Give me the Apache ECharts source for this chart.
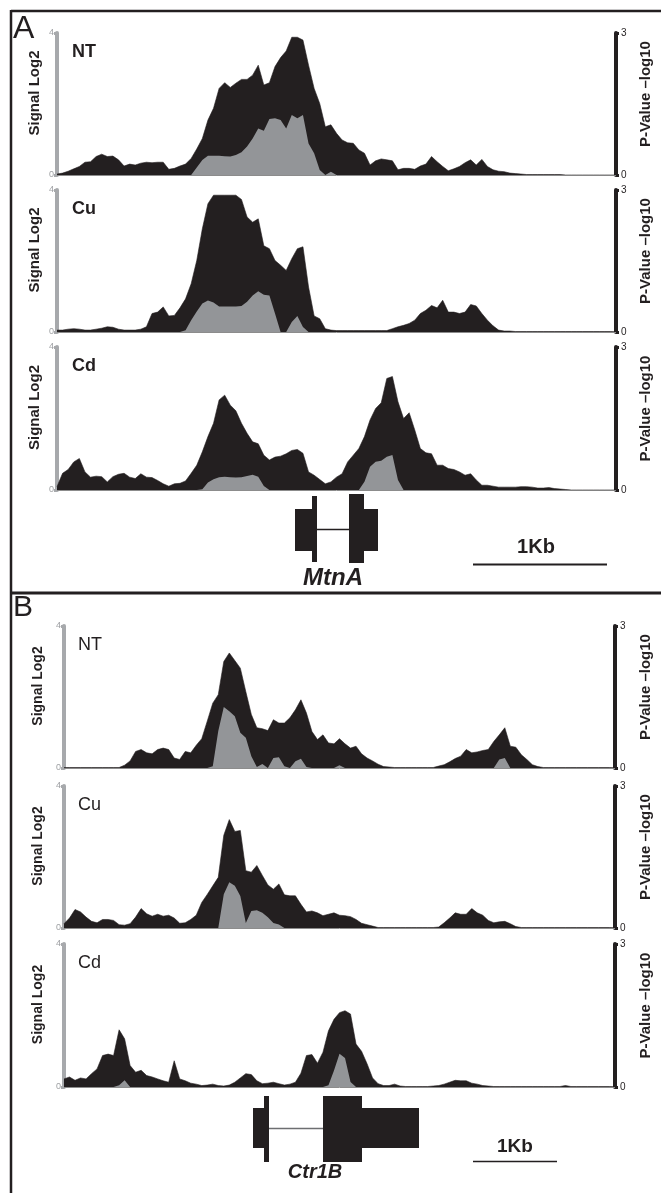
<!DOCTYPE html>
<html>
<head>
<meta charset="utf-8">
<script src="https://cdn.jsdelivr.net/npm/echarts@6/dist/echarts.min.js"></script>
<style>
  html, body { margin: 0; padding: 0; background: #fff; }
  #main { width: 661px; height: 1193px; }
</style>
</head>
<body>
<div id="main"></div>
<script>
// positions along the locus (0..100, left to right)
var pos = [];
for (var i = 0; i <= 100; i++) pos.push(i);

// black = P-Value -log10 (right axis, 0-3), gray = Signal Log2 (left axis, 0-4)
// Panel A - MtnA
var aNtPval = [0.02,0.04,0.08,0.13,0.18,0.27,0.28,0.39,0.44,0.39, 0.40,0.32,0.19,0.23,0.21,0.25,0.27,0.26,0.27,0.27, 0.12,0.14,0.19,0.23,0.35,0.55,0.77,1.16,1.41,1.83, 1.95,1.85,1.94,2.02,2.02,2.11,2.32,1.90,1.95,2.29, 2.48,2.62,2.91,2.91,2.85,2.32,1.83,1.51,1.02,1.06, 0.88,0.74,0.68,0.67,0.53,0.46,0.21,0.30,0.34,0.32, 0.30,0.11,0.14,0.14,0.12,0.19,0.23,0.39,0.28,0.18, 0.09,0.13,0.18,0.26,0.32,0.21,0.33,0.18,0.11,0.08, 0.07,0.04,0.03,0.02,0.01,0.01,0.01,0.01,0.01,0.01, 0.01,0,0,0,0,0,0,0,0,0, 0];
var aNtSig  = [0,0,0,0,0,0,0,0,0,0, 0,0,0,0,0,0,0,0,0,0, 0,0,0,0,0,0.21,0.42,0.54,0.54,0.54, 0.53,0.52,0.56,0.64,0.80,1.03,1.31,1.25,1.58,1.60, 1.55,1.31,1.69,1.60,1.69,0.89,0.61,0.14,0,0.09, 0,0,0,0,0,0,0,0,0,0, 0,0,0,0,0,0,0,0,0,0, 0,0,0,0,0,0,0,0,0,0, 0,0,0,0,0,0,0,0,0,0, 0,0,0,0,0,0,0,0,0,0, 0];
var aCuPval = [0.04,0.04,0.06,0.07,0.06,0.04,0.04,0.06,0.08,0.11, 0.10,0.06,0.04,0.04,0.04,0.06,0.11,0.39,0.42,0.53, 0.34,0.35,0.51,0.70,1.02,1.51,2.18,2.71,2.89,2.89, 2.89,2.89,2.89,2.80,2.43,2.32,2.39,1.82,1.76,1.51, 1.41,1.30,1.55,1.76,1.80,0.95,0.34,0.28,0.07,0.04, 0.03,0.03,0.03,0.03,0.03,0.03,0.03,0.03,0.03,0.03, 0.07,0.11,0.14,0.18,0.25,0.39,0.46,0.56,0.51,0.67, 0.42,0.42,0.39,0.42,0.58,0.55,0.39,0.25,0.13,0.04, 0.02,0.02,0.01,0.01,0.01,0.01,0.01,0.01,0.01,0.01, 0.01,0.01,0.01,0.01,0.01,0.01,0.01,0.01,0.01,0.01, 0.01];
var aCuSig  = [0,0,0,0,0,0,0,0,0,0, 0,0,0,0,0,0,0,0,0,0, 0,0,0,0.05,0.33,0.58,0.80,0.89,0.83,0.72, 0.72,0.72,0.72,0.73,0.85,1.03,1.15,1.05,1.03,0.52, 0,0,0.28,0.45,0.14,0,0,0,0,0, 0,0,0,0,0,0,0,0,0,0, 0,0,0,0,0,0,0,0,0,0, 0,0,0,0,0,0,0,0,0,0, 0,0,0,0,0,0,0,0,0,0, 0,0,0,0,0,0,0,0,0,0, 0];
var aCdPval = [0.07,0.35,0.43,0.59,0.66,0.38,0.27,0.29,0.28,0.17, 0.28,0.33,0.35,0.27,0.24,0.34,0.27,0.26,0.20,0.13, 0.08,0.13,0.14,0.19,0.35,0.52,0.80,1.12,1.40,1.89, 1.99,1.78,1.66,1.40,1.19,1.01,0.97,0.73,0.63,0.69, 0.71,0.76,0.83,0.85,0.77,0.38,0.31,0.22,0.13,0.17, 0.27,0.34,0.59,0.73,0.87,1.12,1.47,1.71,1.83,2.34, 2.38,1.85,1.50,1.62,1.26,0.87,0.78,0.76,0.52,0.52, 0.45,0.43,0.38,0.31,0.34,0.21,0.10,0.10,0.08,0.06, 0.06,0.06,0.06,0.07,0.07,0.06,0.04,0.04,0.05,0.03, 0.02,0.01,0,0,0,0,0,0,0,0, 0];
var aCdSig  = [0,0,0,0,0,0,0,0,0,0, 0,0,0,0,0,0,0,0,0,0, 0,0,0,0,0,0,0.02,0.21,0.30,0.36, 0.37,0.36,0.35,0.36,0.39,0.43,0.37,0.11,0,0, 0,0,0,0,0,0,0,0,0,0, 0,0,0,0,0,0.23,0.65,0.79,0.82,0.93, 0.98,0.28,0,0,0,0,0,0,0,0, 0,0,0,0,0,0,0,0,0,0, 0,0,0,0,0,0,0,0,0,0, 0,0,0,0,0,0,0,0,0,0, 0];

// Panel B - Ctr1B
var bNtPval = [0.01,0.01,0.01,0.01,0.01,0.01,0.01,0.01,0.01,0.01, 0.01,0.06,0.15,0.35,0.39,0.32,0.30,0.39,0.42,0.39, 0.21,0.18,0.35,0.32,0.48,0.62,0.99,1.37,1.55,2.25, 2.43,2.27,2.11,1.61,1.13,0.85,0.83,0.79,1.02,0.95, 0.95,1.06,1.23,1.44,1.16,0.77,0.60,0.70,0.53,0.51, 0.62,0.51,0.42,0.46,0.30,0.21,0.15,0.08,0.03,0.02, 0.01,0.01,0.01,0.01,0.01,0.01,0.01,0.01,0.04,0.07, 0.13,0.20,0.25,0.39,0.32,0.34,0.37,0.39,0.56,0.70, 0.85,0.46,0.44,0.28,0.18,0.07,0.03,0.01,0.01,0.01, 0.01,0.01,0.01,0.01,0.01,0.01,0.01,0.01,0.01,0.01, 0.01];
var bNtSig  = [0,0,0,0,0,0,0,0,0,0, 0,0,0,0,0,0,0,0,0,0, 0,0,0,0,0,0,0,0.05,1.04,1.72, 1.60,1.46,0.99,0.85,0.33,0.03,0.11,0,0.28,0.30, 0.05,0,0.19,0.26,0.03,0,0,0,0,0, 0.08,0,0,0,0,0,0,0,0,0, 0,0,0,0,0,0,0,0,0,0, 0,0,0,0,0,0,0,0,0,0.24, 0.28,0,0,0,0,0,0,0,0,0, 0,0,0,0,0,0,0,0,0,0, 0];
var bCuPval = [0.09,0.21,0.39,0.34,0.23,0.14,0.11,0.18,0.18,0.16, 0.07,0.06,0.09,0.23,0.41,0.30,0.25,0.29,0.25,0.27, 0.21,0.10,0.11,0.18,0.27,0.54,0.71,0.89,1.07,1.96, 2.29,2.04,2.06,1.21,1.18,1.32,1.11,0.91,0.82,0.93, 0.70,0.68,0.68,0.50,0.34,0.36,0.32,0.26,0.29,0.32, 0.27,0.26,0.24,0.18,0.10,0.07,0.04,0.01,0.01,0.01, 0.01,0.01,0.01,0.01,0.01,0.01,0.01,0.01,0.02,0.11, 0.21,0.32,0.29,0.29,0.41,0.32,0.27,0.16,0.11,0.13, 0.14,0.09,0.03,0.01,0.01,0.01,0.01,0.01,0.01,0.01, 0.01,0.01,0.01,0.01,0.01,0.01,0.01,0.01,0.01,0.01, 0.01];
var bCuSig  = [0,0,0,0,0,0,0,0,0,0, 0,0,0,0,0,0,0,0,0,0, 0,0,0,0,0,0,0,0,0,0.95, 1.29,1.19,0.90,0.14,0.48,0.50,0.43,0.30,0.14,0.10, 0,0,0,0,0,0,0,0,0,0, 0,0,0,0,0,0,0,0,0,0, 0,0,0,0,0,0,0,0,0,0, 0,0,0,0,0,0,0,0,0,0, 0,0,0,0,0,0,0,0,0,0, 0,0,0,0,0,0,0,0,0,0, 0];
var bCdPval = [0.17,0.21,0.14,0.19,0.17,0.28,0.38,0.66,0.69,0.66, 1.20,1.01,0.45,0.31,0.35,0.24,0.21,0.17,0.13,0.10, 0.55,0.17,0.13,0.08,0.06,0.03,0.04,0.06,0.03,0.02, 0.04,0.10,0.19,0.28,0.26,0.13,0.07,0.08,0.10,0.07, 0.04,0.06,0.10,0.29,0.66,0.68,0.50,0.73,1.18,1.42, 1.56,1.60,1.53,0.90,0.75,0.49,0.19,0.07,0.03,0.03, 0.06,0.02,0.01,0.01,0.01,0.01,0.01,0.02,0.03,0.06, 0.10,0.14,0.13,0.13,0.08,0.06,0.03,0.02,0.01,0.01, 0.01,0.01,0.01,0.01,0.01,0.01,0.01,0.01,0.01,0.01, 0.01,0.03,0.01,0.01,0.01,0.01,0.01,0.01,0.01,0.01, 0.01];
var bCdSig  = [0,0,0,0,0,0,0,0,0,0, 0.05,0.19,0,0,0,0,0,0,0,0, 0,0,0,0,0,0,0,0,0,0, 0,0,0,0,0,0,0,0,0,0, 0,0,0,0,0,0,0,0,0.05,0.46, 0.93,0.81,0.14,0,0,0,0,0,0,0, 0,0,0,0,0,0,0,0,0,0, 0,0,0,0,0,0,0,0,0,0, 0,0,0,0,0,0,0,0,0,0, 0,0,0,0,0,0,0,0,0,0, 0];

var BLACK = '#231f20';
var GRAY = '#939598';
var AXGRAY = '#a7a9ac';
var FONT = '"Liberation Sans", Arial, sans-serif';

// one entry per track: label, data, grid box
var tracks = [
  { label: 'NT', bold: true,  pval: aNtPval, sig: aNtSig, left: 57, top: 33,  width: 563, height: 142, sigGap: 15, pvGap: 22, sigSize: 15 },
  { label: 'Cu', bold: true,  pval: aCuPval, sig: aCuSig, left: 57, top: 190, width: 563, height: 142, sigGap: 15, pvGap: 22, sigSize: 15 },
  { label: 'Cd', bold: true,  pval: aCdPval, sig: aCdSig, left: 57, top: 347, width: 563, height: 143, sigGap: 15, pvGap: 22, sigSize: 15 },
  { label: 'NT', bold: false, pval: bNtPval, sig: bNtSig, left: 64, top: 626, width: 551, height: 142, sigGap: 19, pvGap: 23, sigSize: 14 },
  { label: 'Cu', bold: false, pval: bCuPval, sig: bCuSig, left: 64, top: 786, width: 551, height: 142, sigGap: 19, pvGap: 23, sigSize: 14 },
  { label: 'Cd', bold: false, pval: bCdPval, sig: bCdSig, left: 64, top: 944, width: 551, height: 143, sigGap: 19, pvGap: 23, sigSize: 14 }
];

var grids = [], xAxes = [], yAxes = [], series = [], graphics = [];

tracks.forEach(function (t, k) {
  grids.push({ left: t.left, top: t.top, width: t.width, height: t.height });
  xAxes.push({
    gridIndex: k, type: 'category', data: pos, boundaryGap: false,
    axisLine: { show: true, lineStyle: { color: '#8c8c8c', width: 1 } },
    axisTick: { show: false }, axisLabel: { show: false }, splitLine: { show: false }
  });
  yAxes.push({
    gridIndex: k, type: 'value', position: 'left', min: 0, max: 4, interval: 4,
    axisLine: { show: true, lineStyle: { color: AXGRAY, width: 4 } },
    axisTick: { show: true, length: 3, lineStyle: { color: AXGRAY, width: 3 } },
    axisLabel: { color: '#9d9fa2', fontSize: 9, margin: 3, fontFamily: FONT },
    splitLine: { show: false },
    name: 'Signal Log2', nameLocation: 'middle', nameRotate: 90, nameGap: t.sigGap, nameMoveOverlap: false,
    nameTextStyle: { color: BLACK, fontWeight: 'bold', fontSize: t.sigSize, fontFamily: FONT, padding: [0, 0, 0, 22] }
  });
  yAxes.push({
    gridIndex: k, type: 'value', position: 'right', min: 0, max: 3, interval: 3,
    axisLine: { show: true, lineStyle: { color: BLACK, width: 4 } },
    axisTick: { show: true, length: 3, lineStyle: { color: BLACK, width: 3 } },
    axisLabel: { color: BLACK, fontSize: 10, margin: 5, fontFamily: FONT },
    splitLine: { show: false },
    name: 'P-Value \u2013log10', nameLocation: 'middle', nameRotate: 90, nameGap: t.pvGap, nameMoveOverlap: false,
    nameTextStyle: { color: BLACK, fontWeight: 'bold', fontSize: 15, fontFamily: FONT, padding: [0, 0, 0, 20] }
  });
  series.push({
    type: 'line', xAxisIndex: k, yAxisIndex: 2 * k + 1, data: t.pval,
    symbol: 'none', silent: true, z: 2,
    lineStyle: { color: BLACK, width: 0.6 },
    areaStyle: { color: BLACK, opacity: 1 }
  });
  series.push({
    type: 'line', xAxisIndex: k, yAxisIndex: 2 * k, data: t.sig,
    symbol: 'none', silent: true, z: 3,
    lineStyle: { width: 0 },
    areaStyle: { color: GRAY, opacity: 1 }
  });
  graphics.push({
    type: 'text', x: t.left + (t.bold ? 15 : 14), y: t.top + 19,
    style: { text: t.label, fill: BLACK, font: (t.bold ? 'bold 18px ' : '18px ') + FONT,
             textAlign: 'left', align: 'left', textVerticalAlign: 'middle', verticalAlign: 'middle' }
  });
});

function txt(s, x, y, font, align) {
  return { type: 'text', x: x, y: y,
    style: { text: s, fill: BLACK, font: font, textAlign: align || 'center', align: align || 'center',
             textVerticalAlign: 'middle', verticalAlign: 'middle' } };
}
function box(x, y, w, h) {
  return { type: 'rect', shape: { x: x, y: y, width: w, height: h }, style: { fill: BLACK } };
}
function seg(x1, y1, x2, y2, w, c) {
  return { type: 'line', shape: { x1: x1, y1: y1, x2: x2, y2: y2 }, style: { stroke: c || BLACK, lineWidth: w } };
}

// figure frame
graphics.push(seg(11, 11, 661, 11, 2.5));
graphics.push(seg(11, 10, 11, 1193, 2.5));
graphics.push(seg(11, 593, 661, 593, 3));
graphics.push(txt('A', 13, 29, '32px ' + FONT, 'left'));
graphics.push(txt('B', 13, 608, '30px ' + FONT, 'left'));

// MtnA gene model and scale bar
graphics.push(box(295, 509, 21, 42));
graphics.push(box(312, 496, 5, 66));
graphics.push(seg(317, 529.5, 350, 529.5, 1.5));
graphics.push(box(349, 494, 15, 69));
graphics.push(box(364, 509, 14, 42));
graphics.push(txt('MtnA', 333, 578, 'italic bold 24px ' + FONT));
graphics.push(txt('1Kb', 536, 547, 'bold 20px ' + FONT));
graphics.push(seg(473, 564.5, 607, 564.5, 2));

// Ctr1B gene model and scale bar
graphics.push(box(253, 1108, 12, 40));
graphics.push(box(264, 1096, 5, 66));
graphics.push(seg(269, 1128.5, 323, 1128.5, 1.5, '#6d6e71'));
graphics.push(box(323, 1096, 39, 66));
graphics.push(box(362, 1108, 57, 40));
graphics.push(txt('Ctr1B', 315, 1172, 'italic bold 20px ' + FONT));
graphics.push(txt('1Kb', 515, 1147, 'bold 19px ' + FONT));
graphics.push(seg(473, 1161.5, 557, 1161.5, 1.5));

var myChart = echarts.init(document.getElementById('main'));
myChart.setOption({
  animation: false,
  backgroundColor: '#fff',
  grid: grids,
  xAxis: xAxes,
  yAxis: yAxes,
  series: series,
  graphic: { elements: graphics }
});
</script>
</body>
</html>
